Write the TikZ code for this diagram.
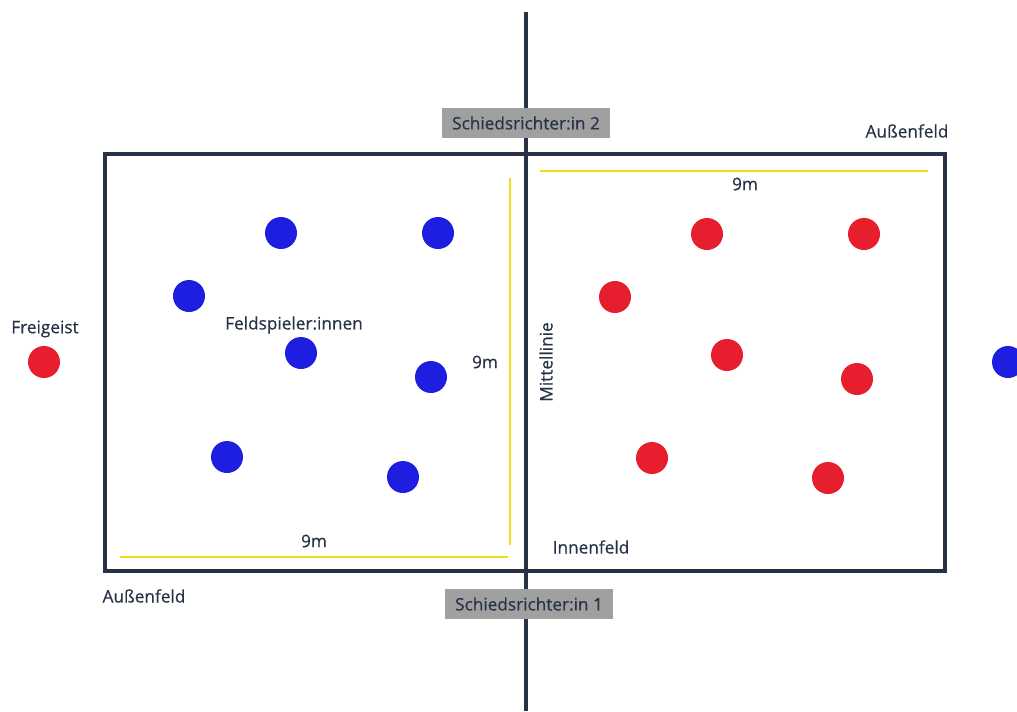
\documentclass[tikz,border=0pt]{standalone}
\usepackage{fontspec}
\setmainfont{Open Sans}[FakeBold=0.5]
\usepackage{tikz}
\usetikzlibrary{calc, positioning}
\usepackage{xcolor}
\definecolor{lineNavy}{RGB}{40, 50, 70}
\definecolor{teamRed}{RGB}{230, 30, 45}
\definecolor{teamBlue}{RGB}{30, 30, 225}
\definecolor{markYellow}{RGB}{245, 220, 20}
\definecolor{refGray}{RGB}{160, 160, 160}

\begin{document}
\begin{tikzpicture}[x=0.02cm, y=-0.02cm, font=\fontsize{9.8}{11}\selectfont,
    redDot/.style={circle, fill=teamRed, minimum size=0.64cm, inner sep=0pt},
    blueDot/.style={circle, fill=teamBlue, minimum size=0.64cm, inner sep=0pt},
    refBox/.style={fill=refGray, text=lineNavy, inner sep=0pt, minimum width=3.35cm, minimum height=0.6cm},
    lbl/.style={text=lineNavy, inner sep=1pt},
    markLine/.style={markYellow, line width=1.3pt}]
  \useasboundingbox (0,0) rectangle (1017,711);
  \clip (0,0) rectangle (1017,711);

  % Court and centre line
  \draw[lineNavy, line width=2.2pt] (105,154) rectangle (945,571);
  \draw[lineNavy, line width=2.2pt] (526,12) -- (526,711);

  % 9m markings
  \draw[markLine] (510,178) -- (510,545);
  \draw[markLine] (120,557) -- (508,557);
  \draw[markLine] (540,171) -- (928,171);
  \node[lbl] (nineA) at (314,541) {9m};
  \node[lbl] (nineB) at (485,362) {9m};
  \node[lbl] (nineC) at (745,184) {9m};

  % Referees
  \node[refBox] (refTwo) at (526,123) {Schiedsrichter:in 2};
  \node[refBox] (refOne) at (529,604) {Schiedsrichter:in 1};

  % Labels
  \node[lbl] (outerR) at (907,131) {Außenfeld};
  \node[lbl] (outerL) at (144,596) {Außenfeld};
  \node[lbl] (free) at (45,329) {Freigeist};
  \node[lbl] (field) at (294,325) {Feldspieler:innen};
  \node[lbl, rotate=90] (middle) at (546,362) {Mittellinie};
  \node[lbl] (inner) at (591,547) {Innenfeld};

  % Blue team
  \foreach \px/\py [count=\i] in {281/233, 438/233, 189/296, 301/353, 431/377, 227/457, 403/477, 1008/362}
    \node[blueDot] (blue\i) at (\px,\py) {};

  % Red team
  \foreach \px/\py [count=\i] in {44/362, 707/234, 864/234, 615/297, 727/355, 857/379, 652/458, 828/478}
    \node[redDot] (red\i) at (\px,\py) {};
\end{tikzpicture}
\end{document}
